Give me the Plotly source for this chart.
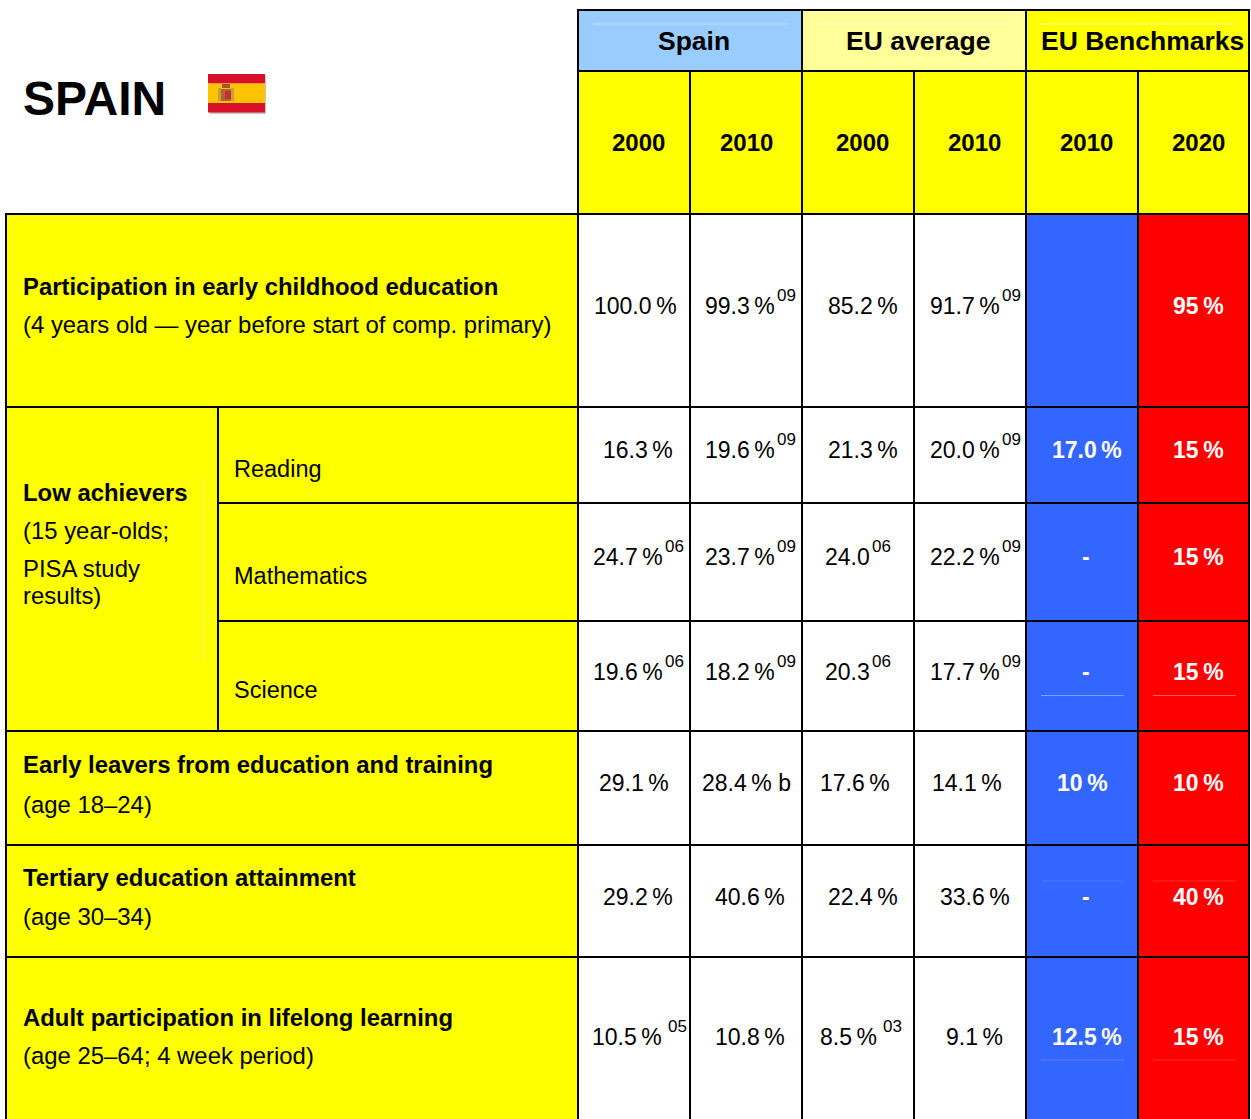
import plotly.graph_objects as go

# --- data -----------------------------------------------------------------
title = "SPAIN"
group_headers = ["Spain", "EU average", "EU Benchmarks"]
year_headers = ["2000", "2010", "2000", "2010", "2010", "2020"]

label_main = ["Participation in early childhood education", "Low achievers",
              "Early leavers from education and training",
              "Tertiary education attainment",
              "Adult participation in lifelong learning"]
label_sub = ["(4 years old \u2014 year before start of comp. primary)", "(15 year-olds;",
             "(age 18\u201324)", "(age 30\u201334)", "(age 25\u201364; 4 week period)"]
low_achiever_extra = ["PISA study", "results)"]
subjects = ["Reading", "Mathematics", "Science"]

T = "\u2009%"
spain_2000 = ["100.0" + T, "16.3" + T, "24.7" + T, "19.6" + T, "29.1" + T, "29.2" + T, "10.5" + T]
spain_2010 = ["99.3" + T, "19.6" + T, "23.7" + T, "18.2" + T, "28.4" + T + " b", "40.6" + T, "10.8" + T]
eu_2000 = ["85.2" + T, "21.3" + T, "24.0", "20.3", "17.6" + T, "22.4" + T, "8.5" + T]
eu_2010 = ["91.7" + T, "20.0" + T, "22.2" + T, "17.7" + T, "14.1" + T, "33.6" + T, "9.1" + T]
bench_2010 = ["", "17.0" + T, "-", "-", "10" + T, "-", "12.5" + T]
bench_2020 = ["95" + T, "15" + T, "15" + T, "15" + T, "10" + T, "40" + T, "15" + T]

spain_2000_notes = ["", "", "06", "06", "", "", "05"]
spain_2010_notes = ["09", "09", "09", "09", "", "", ""]
eu_2000_notes = ["", "", "06", "06", "", "", "03"]
eu_2010_notes = ["09", "09", "09", "09", "", "", ""]

# --- layout of the table (pixels) -----------------------------------------
W, H = 1251, 1119
X = [578, 690, 802, 914, 1026, 1138, 1249]
Y_HEAD = [10, 71, 214]
Y_ROW = [214, 407, 503, 621, 731, 845, 957, 1125]
X_LEFT, X_SPLIT = 6, 218
ROW_TEXT_Y = [306, 450, 557, 672, 783, 897, 1037]
GROUP_X = [693.5, 918, 1142.5]
YEAR_X = [638.5, 746.5, 862.5, 974.5, 1086.5, 1198.5]
# right edge of each value text, per column then row
RIGHT = [
    [678, 674, 664, 664, 670, 674, 663],
    [776, 776, 776, 776, 792, 786, 786],
    [899, 899, 871, 871, 891, 899, 878],
    [1001, 1001, 1001, 1001, 1003, 1011, 1004],
    [0, 1123, 1091, 1091, 1109, 1091, 1123],
    [1225, 1225, 1225, 1225, 1225, 1225, 1225],
]
FONT = "Liberation Sans, Arial, sans-serif"
YELLOW, PALE, SKY, BLUE, RED = "#FFFF00", "#FFFF99", "#99CCFF", "#3366FF", "#FF0000"

shapes = []
annotations = []


def cell(x0, y0, x1, y1, fill):
    shapes.append(dict(type="rect", xref="x", yref="y", x0=x0, y0=y0, x1=x1, y1=y1,
                       fillcolor=fill, line=dict(color="black", width=2)))


def faint(x0, y0, x1, y1, color):
    shapes.append(dict(type="line", xref="x", yref="y", x0=x0, y0=y0, x1=x1, y1=y1,
                       line=dict(color=color, width=1)))


def block(x0, y0, x1, y1, fill):
    shapes.append(dict(type="rect", xref="x", yref="y", x0=x0, y0=y0, x1=x1, y1=y1,
                       fillcolor=fill, line=dict(width=0)))


def text(x, y, s, size=23, bold=False, color="black", anchor="left"):
    annotations.append(dict(xref="x", yref="y", x=x, y=y, text=f"<b>{s}</b>" if bold else s,
                            showarrow=False, xanchor=anchor, yanchor="middle", align=anchor,
                            borderpad=0, font=dict(family=FONT, size=size, color=color)))


# header
for i, (name, fill) in enumerate(zip(group_headers, [SKY, PALE, YELLOW])):
    cell(X[2 * i], Y_HEAD[0], X[2 * i + 2], Y_HEAD[1], fill)
    text(GROUP_X[i], 41, name, size=26.5, bold=True, anchor="center")
for i, year in enumerate(year_headers):
    cell(X[i], Y_HEAD[1], X[i + 1], Y_HEAD[2], YELLOW)
    text(YEAR_X[i], 142, year, size=24, bold=True, anchor="center")

# faint scan lines that sit in the original
faint(593, 24, 788, 24, "#C4DEFF")
faint(817, 24, 1012, 24, "#FFFFC8")
faint(1041, 24, 1236, 24, "#FFFF99")

# left labels
cell(X_LEFT, Y_ROW[0], X[0], Y_ROW[1], YELLOW)
cell(X_LEFT, Y_ROW[1], X_SPLIT, Y_ROW[4], YELLOW)
for r in range(3):
    cell(X_SPLIT, Y_ROW[r + 1], X[0], Y_ROW[r + 2], YELLOW)
for r in (4, 5, 6):
    cell(X_LEFT, Y_ROW[r], X[0], Y_ROW[r + 1], YELLOW)
faint(203.5, 478, 203.5, 660, "#FFFF70")

main_y = [286, 492, 764, 877, 1017]
sub_y = [324, 530, 804, 916, 1055]
for s, y in zip(label_main, main_y):
    text(21.5, y, s, size=23.9, bold=True)
for s, y in zip(label_sub, sub_y):
    text(21.5, y, s, size=23.9)
for s, y in zip(low_achiever_extra, [568, 595]):
    text(21.5, y, s, size=23.9)
for s, y in zip(subjects, [469, 576, 690]):
    text(232.5, y, s, size=23.5)

# values
columns = [spain_2000, spain_2010, eu_2000, eu_2010, bench_2010, bench_2020]
notes = [spain_2000_notes, spain_2010_notes, eu_2000_notes, eu_2010_notes, [""] * 7, [""] * 7]
for c in range(6):
    fill = BLUE if c == 4 else RED if c == 5 else "white"
    for r in range(7):
        cell(X[c], Y_ROW[r], X[c + 1], Y_ROW[r + 1], fill)
faint(1041, 695.5, 1124, 695.5, "#7F9FFF")
faint(1153, 695.5, 1236, 695.5, "#FF6060")
faint(1041, 881, 1124, 881, "#4A76FF")
faint(1153, 881, 1236, 881, "#FF2A2A")
faint(1041, 1060, 1124, 1060, "#5A82FF")
faint(1153, 1060, 1236, 1060, "#FF3030")
for c, (values, col_notes) in enumerate(zip(columns, notes)):
    for r, (v, n) in enumerate(zip(values, col_notes)):
        if v:
            if c >= 4:
                text(RIGHT[c][r], ROW_TEXT_Y[r], v, bold=True, color="white", anchor="right")
            else:
                text(RIGHT[c][r], ROW_TEXT_Y[r], v, anchor="right")
        if n:
            gap = 4 if r == 6 else 0
            text(RIGHT[c][r] + gap, ROW_TEXT_Y[r] - 11, n, size=17)

# title and flag
text(21.5, 98, title, size=48, bold=True)
block(210, 76, 266, 114, "#C9C5C0")
block(208, 74, 265, 83.5, "#D8102A")
block(208, 83.5, 265, 103, "#FFC400")
block(208, 103, 265, 112.5, "#D8102A")
block(218, 88, 221, 101, "#C8A040")
block(231, 88, 234, 101, "#C8A040")
block(221, 89, 231, 101, "#B5652A")
block(225, 91, 231, 99, "#C0303A")
block(222, 84, 230, 88, "#A8542A")

fig = go.Figure()
fig.update_layout(
    width=W, height=H, autosize=False,
    margin=dict(l=0, r=0, t=0, b=0, pad=0),
    paper_bgcolor="white", plot_bgcolor="white", showlegend=False,
    xaxis=dict(visible=False, range=[0, W], fixedrange=True),
    yaxis=dict(visible=False, range=[H, 0], fixedrange=True),
    shapes=shapes, annotations=annotations,
)
fig.write_html(
    "out.html", config=dict(displayModeBar=False),
    post_script="document.body.style.margin='0';document.documentElement.style.overflow='hidden';",
)
